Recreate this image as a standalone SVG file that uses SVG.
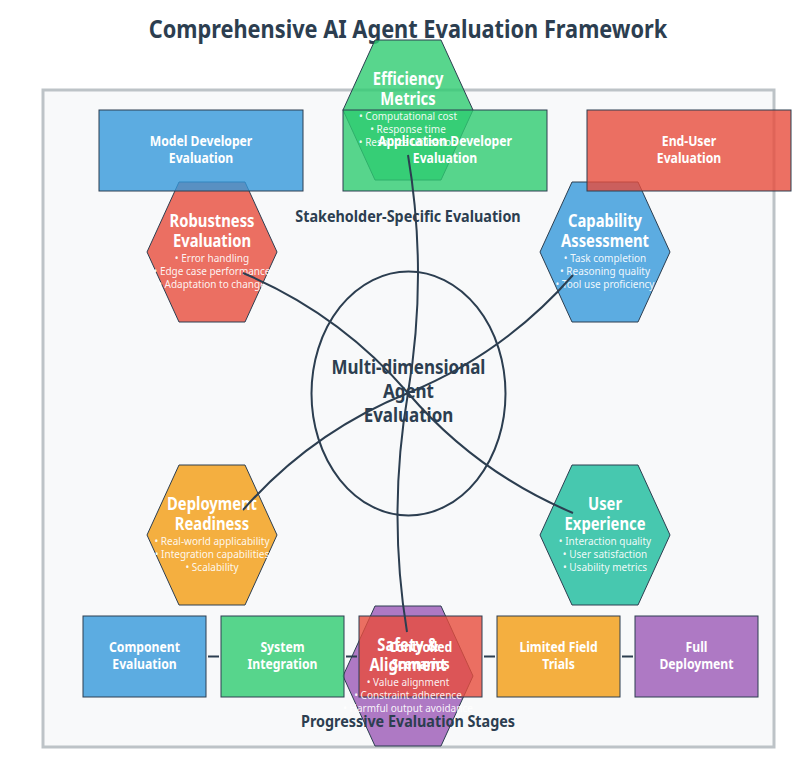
<svg xmlns="http://www.w3.org/2000/svg" width="807" height="761" viewBox="0 0 807 761">
<style>
text{font-family:"Noto Sans","Open Sans","Liberation Sans",sans-serif;text-anchor:middle}
.title{font-size:25px;font-weight:700;fill:#2c3e50}
.sec{font-size:16.5px;font-weight:700;fill:#2c3e50}
.ctr{font-size:19.5px;font-weight:700;fill:#2c3e50}
.ht{font-size:17px;font-weight:700;fill:#fff}
.hb{font-size:11.5px;fill:#fff;fill-opacity:.92}
.rl{font-size:14px;font-weight:700;fill:#fff}
.hex{stroke:#2c3e50;stroke-width:1;fill-opacity:.8}
.box{stroke:#2c3e50;stroke-width:1;fill-opacity:.8}
.conn{fill:none;stroke:#2c3e50;stroke-width:2}
.blue{fill:#3498db}.green{fill:#2ecc71}.red{fill:#e74c3c}.orange{fill:#f39c12}.purple{fill:#9b59b6}.teal{fill:#1abc9c}
</style>
<defs>
<polygon id="hexshape" points="-65,0 -33,-70 33,-70 65,0 33,70 -33,70"/>
</defs>
<rect width="807" height="761" fill="#fff"/>
<text class="title" transform="translate(408,38) scale(0.87,1)">Comprehensive AI Agent Evaluation Framework</text>
<rect id="frame" x="43" y="90" width="731" height="657" fill="#f8f9fa" stroke="#bdc3c7" stroke-width="3"/>

<g id="hex-efficiency" transform="translate(408,110)"><use href="#hexshape" class="hex green"/></g>
<g id="hex-robustness" transform="translate(212,252)"><use href="#hexshape" class="hex red"/></g>
<g id="hex-capability" transform="translate(605,252)"><use href="#hexshape" class="hex blue"/></g>
<g id="hex-deployment" transform="translate(212,535)"><use href="#hexshape" class="hex orange"/></g>
<g id="hex-ux" transform="translate(605,535)"><use href="#hexshape" class="hex teal"/></g>
<g id="hex-safety" transform="translate(408,676)"><use href="#hexshape" class="hex purple"/></g>

<g id="stakeholder-model">
<rect x="99" y="110" width="204" height="81" class="box blue"/>
<text class="rl" transform="translate(201,146) scale(0.87,1)">Model Developer</text>
<text class="rl" transform="translate(201,163) scale(0.87,1)">Evaluation</text>
</g>
<g id="stakeholder-app">
<rect x="343" y="110" width="204" height="81" class="box green"/>
<text class="rl" transform="translate(445,146) scale(0.87,1)">Application Developer</text>
<text class="rl" transform="translate(445,163) scale(0.87,1)">Evaluation</text>
</g>
<g id="stakeholder-enduser">
<rect x="587" y="110" width="204" height="81" class="box red"/>
<text class="rl" transform="translate(689,146) scale(0.87,1)">End-User</text>
<text class="rl" transform="translate(689,163) scale(0.87,1)">Evaluation</text>
</g>
<text class="sec" transform="translate(408,222) scale(0.87,1)">Stakeholder-Specific Evaluation</text>

<g id="stage-connectors" stroke="#2c3e50" stroke-width="2">
<line x1="208" y1="656.5" x2="219" y2="656.5"/>
<line x1="346" y1="656.5" x2="357" y2="656.5"/>
<line x1="484" y1="656.5" x2="495" y2="656.5"/>
<line x1="622" y1="656.5" x2="633" y2="656.5"/>
</g>
<g id="stage-component">
<rect x="83" y="616" width="123" height="81" class="box blue"/>
<text class="rl" transform="translate(144.5,652) scale(0.87,1)">Component</text>
<text class="rl" transform="translate(144.5,668.5) scale(0.87,1)">Evaluation</text>
</g>
<g id="stage-system">
<rect x="221" y="616" width="123" height="81" class="box green"/>
<text class="rl" transform="translate(282.5,652) scale(0.87,1)">System</text>
<text class="rl" transform="translate(282.5,668.5) scale(0.87,1)">Integration</text>
</g>
<g id="stage-controlled">
<rect x="359" y="616" width="123" height="81" class="box red"/>
<text class="rl" transform="translate(420.5,652) scale(0.87,1)">Controlled</text>
<text class="rl" transform="translate(420.5,668.5) scale(0.87,1)">Scenarios</text>
</g>
<g id="stage-limited">
<rect x="497" y="616" width="123" height="81" class="box orange"/>
<text class="rl" transform="translate(558.5,652) scale(0.87,1)">Limited Field</text>
<text class="rl" transform="translate(558.5,668.5) scale(0.87,1)">Trials</text>
</g>
<g id="stage-full">
<rect x="635" y="616" width="123" height="81" class="box purple"/>
<text class="rl" transform="translate(696.5,652) scale(0.87,1)">Full</text>
<text class="rl" transform="translate(696.5,668.5) scale(0.87,1)">Deployment</text>
</g>
<text class="sec" transform="translate(408,727) scale(0.87,1)">Progressive Evaluation Stages</text>

<g id="hex-efficiency-label" transform="translate(408,110)">
<text class="ht" transform="translate(0,-25) scale(0.87,1)">Efficiency</text>
<text class="ht" transform="translate(0,-5) scale(0.87,1)">Metrics</text>
<text class="hb" transform="translate(0,10) scale(0.87,1)">• Computational cost</text>
<text class="hb" transform="translate(0,23) scale(0.87,1)">• Response time</text>
<text class="hb" transform="translate(0,36) scale(0.87,1)">• Resource utilization</text>
</g>
<g id="hex-robustness-label" transform="translate(212,252)">
<text class="ht" transform="translate(0,-25) scale(0.87,1)">Robustness</text>
<text class="ht" transform="translate(0,-5) scale(0.87,1)">Evaluation</text>
<text class="hb" transform="translate(0,10) scale(0.87,1)">• Error handling</text>
<text class="hb" transform="translate(0,23) scale(0.87,1)">• Edge case performance</text>
<text class="hb" transform="translate(0,36) scale(0.87,1)">• Adaptation to change</text>
</g>
<g id="hex-capability-label" transform="translate(605,252)">
<text class="ht" transform="translate(0,-25) scale(0.87,1)">Capability</text>
<text class="ht" transform="translate(0,-5) scale(0.87,1)">Assessment</text>
<text class="hb" transform="translate(0,10) scale(0.87,1)">• Task completion</text>
<text class="hb" transform="translate(0,23) scale(0.87,1)">• Reasoning quality</text>
<text class="hb" transform="translate(0,36) scale(0.87,1)">• Tool use proficiency</text>
</g>
<g id="hex-deployment-label" transform="translate(212,535)">
<text class="ht" transform="translate(0,-25) scale(0.87,1)">Deployment</text>
<text class="ht" transform="translate(0,-5) scale(0.87,1)">Readiness</text>
<text class="hb" transform="translate(0,10) scale(0.87,1)">• Real-world applicability</text>
<text class="hb" transform="translate(0,23) scale(0.87,1)">• Integration capabilities</text>
<text class="hb" transform="translate(0,36) scale(0.87,1)">• Scalability</text>
</g>
<g id="hex-ux-label" transform="translate(605,535)">
<text class="ht" transform="translate(0,-25) scale(0.87,1)">User</text>
<text class="ht" transform="translate(0,-5) scale(0.87,1)">Experience</text>
<text class="hb" transform="translate(0,10) scale(0.87,1)">• Interaction quality</text>
<text class="hb" transform="translate(0,23) scale(0.87,1)">• User satisfaction</text>
<text class="hb" transform="translate(0,36) scale(0.87,1)">• Usability metrics</text>
</g>
<g id="hex-safety-label" transform="translate(408,676)">
<text class="ht" transform="translate(0,-25) scale(0.87,1)">Safety &amp;</text>
<text class="ht" transform="translate(0,-5) scale(0.87,1)">Alignment</text>
<text class="hb" transform="translate(0,10) scale(0.87,1)">• Value alignment</text>
<text class="hb" transform="translate(0,23) scale(0.87,1)">• Constraint adherence</text>
<text class="hb" transform="translate(0,36) scale(0.87,1)">• Harmful output avoidance</text>
</g>

<g id="center">
<ellipse cx="408.5" cy="393.5" rx="97" ry="122" fill="#f8f9fa" fill-opacity="0.6" stroke="#2c3e50" stroke-width="2"/>
</g>
<g id="connectors">
<path class="conn" d="M408,155 Q428,274 408,393"/>
<path class="conn" d="M243,273 Q339.6,313.6 408,393"/>
<path class="conn" d="M573,275 Q504.5,353.5 408,393"/>
<path class="conn" d="M243,510 Q311.6,431.9 408,393"/>
<path class="conn" d="M573,513 Q476.4,472.4 408,393"/>
<path class="conn" d="M407,632 Q387.5,512.5 408,393"/>
</g>
<g id="center-label">
<text class="ctr" transform="translate(408.5,374) scale(0.87,1)">Multi-dimensional</text>
<text class="ctr" transform="translate(408.5,398) scale(0.87,1)">Agent</text>
<text class="ctr" transform="translate(408.5,422) scale(0.87,1)">Evaluation</text>
</g>
</svg>
